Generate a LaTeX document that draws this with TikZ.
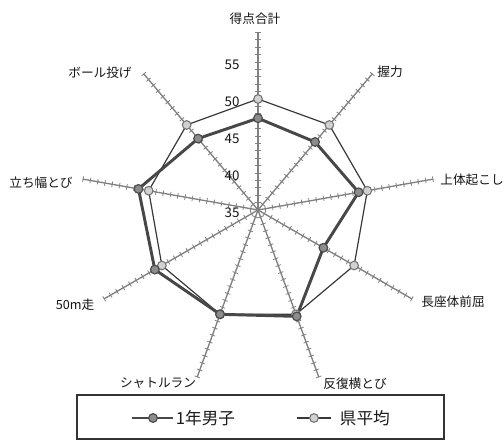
\documentclass[tikz,border=0pt]{standalone}
\usepackage{fontspec}
\setmainfont{Noto Sans CJK JP}

\tikzset{every picture/.style={line width=0.75pt}}
\tikzset{
  axisline/.style={draw=black!50, line width=1pt},
  tickmark/.style={draw=black!50, line width=0.6pt},
  boyline/.style={draw=black!72, line width=2.2pt, line join=round},
  avgline/.style={draw=black!78, line width=0.9pt, line join=round},
  boymark/.style={circle, draw=black!70, fill=black!45, line width=0.9pt, inner sep=0pt, minimum size=6.5pt},
  avgmark/.style={circle, draw=black!55, fill=black!18, line width=0.8pt, inner sep=0pt, minimum size=6.5pt},
  axislabel/.style={font=\fontsize{9.5}{11}\selectfont, text=black!92},
  vallabel/.style={font=\fontsize{10}{12}\selectfont, text=black!92},
  keylabel/.style={font=\fontsize{12.5}{14}\selectfont, text=black!90, anchor=west, inner sep=1pt},
}

\begin{document}
\begin{tikzpicture}[x=0.75pt,y=0.75pt,yscale=-1,xscale=1]
	\useasboundingbox (0,0) rectangle (504,441);
	\coordinate (o) at (258,210);

	%Straight Lines: the nine axes, one tick per point
	\foreach \k in {0,...,8}{
		\draw [axisline] (o) -- ++(40*\k-90:178);
		\foreach \t in {1,...,24}
			\draw [tickmark, shift={(o)}, rotate=40*\k-90] (7.4*\t,-2.8) -- (7.4*\t,2.8);
	}

	%Data points
	\foreach \v [count=\k from 0] in {50,50,50,50,50,50,50,50,50}
		\path (o) ++(40*\k-90:{7.4*(\v-35)}) coordinate (a\k);
	\foreach \v [count=\k from 0] in {47.4,47.0,48.8,45.2,50.3,50.0,51.1,51.4,47.6}
		\path (o) ++(40*\k-90:{7.4*(\v-35)}) coordinate (b\k);

	%Shape: prefectural average
	\draw [avgline] (a0) -- (a1) -- (a2) -- (a3) -- (a4) -- (a5) -- (a6) -- (a7) -- (a8) -- cycle;
	%Shape: first-year boys
	\draw [boyline] (b0) -- (b1) -- (b2) -- (b3) -- (b4) -- (b5) -- (b6) -- (b7) -- (b8) -- cycle;
	\foreach \k in {0,...,8}
		\node [avgmark] (am\k) at (a\k) {};
	\foreach \k in {0,...,8}
		\node [boymark] (bm\k) at (b\k) {};

	% Text Node
	\draw (255,19) node [axislabel] (l0) {得点合計};
	% Text Node
	\draw (390,72) node [axislabel] (l1) {握力};
	% Text Node
	\draw (472,180) node [axislabel] (l2) {上体起こし};
	% Text Node
	\draw (453,302) node [axislabel] (l3) {長座体前屈};
	% Text Node
	\draw (355,384) node [axislabel] (l4) {反復横とび};
	% Text Node
	\draw (158,383) node [axislabel] (l5) {シャトルラン};
	% Text Node
	\draw (75,305) node [axislabel] (l6) {50m走};
	% Text Node
	\draw (41,183) node [axislabel] (l7) {立ち幅とび};
	% Text Node
	\draw (100,73) node [axislabel] (l8) {ボール投げ};

	% Text Node: scale
	\foreach \v in {35,40,...,55}
		\draw (232,{213-7.4*(\v-35)}) node [vallabel] (v\v) {\v};

	%Shape: Rectangle (legend)
	\draw [line width=1.1pt, draw=black!80] (77,395) rectangle (444,439);
	\coordinate (k1) at (132,418);
	\coordinate (k2) at (173,418);
	\draw [boyline] (k1) -- (k2);
	\node [boymark] (km1) at (153,418) {};
	\draw (174,418) node [keylabel] (kt1) {1年男子};
	\coordinate (k3) at (297,418);
	\coordinate (k4) at (331,418);
	\draw [avgline] (k3) -- (k4);
	\node [avgmark] (km2) at (314,418) {};
	\draw (338,418) node [keylabel] (kt2) {県平均};

\end{tikzpicture}
\end{document}
